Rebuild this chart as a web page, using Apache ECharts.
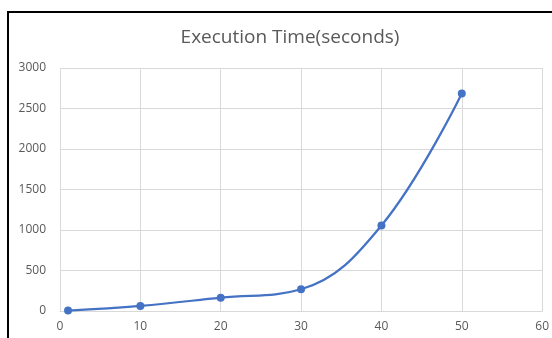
<!DOCTYPE html>
<html>
<head>
<meta charset="utf-8">
<style>
  html, body { margin: 0; padding: 0; background: #fff; }
  #chart { width: 552px; height: 338px; }
</style>
<script src="https://cdn.jsdelivr.net/npm/echarts@6/dist/echarts.min.js"></script>
</head>
<body>
<div id="chart"></div>
<script>
// Input sizes and measured run times
const sizes = [1, 10, 20, 30, 40, 50];
const seconds = [5, 63, 165, 268, 1055, 2685];
const xTicks = [0, 10, 20, 30, 40, 50, 60];
const yTicks = [0, 500, 1000, 1500, 2000, 2500, 3000];

const chart = echarts.init(document.getElementById('chart'), null, { renderer: 'canvas' });
const textColor = '#595959';
const gridColor = '#d9d9d9';

chart.setOption({
  animation: false,
  title: {
    text: 'Execution Time(seconds)',
    left: 285,
    top: 23,
    textAlign: 'center',
    textStyle: { fontFamily: 'Open Sans', fontSize: 19, fontWeight: 'normal', color: textColor }
  },
  graphic: [{
    type: 'rect',
    shape: { x: 8, y: 12, width: 600, height: 400 },
    style: { fill: 'none', stroke: '#000', lineWidth: 2 },
    silent: true
  }],
  grid: { left: 60, right: 7, top: 68, bottom: 27 },
  xAxis: {
    type: 'value',
    min: xTicks[0],
    max: xTicks[xTicks.length - 1],
    interval: 10,
    axisLine: { show: true, lineStyle: { color: gridColor } },
    axisTick: { show: false },
    splitLine: { show: true, lineStyle: { color: gridColor } },
    axisLabel: { color: textColor, fontFamily: 'Open Sans', fontSize: 12, margin: 10, formatter: v => String(v) }
  },
  yAxis: {
    type: 'value',
    min: yTicks[0],
    max: yTicks[yTicks.length - 1],
    interval: 500,
    axisLine: { show: false },
    axisTick: { show: false },
    splitLine: { show: true, lineStyle: { color: gridColor } },
    axisLabel: { color: textColor, fontFamily: 'Open Sans', fontSize: 12, margin: 14, formatter: v => String(v) }
  },
  series: [{
    type: 'line',
    data: sizes.map((s, i) => [s, seconds[i]]),
    smooth: 0.4,
    symbol: 'circle',
    symbolSize: 8,
    showSymbol: true,
    lineStyle: { color: '#4472C4', width: 2.25 },
    itemStyle: { color: '#4472C4' }
  }]
});
</script>
</body>
</html>
